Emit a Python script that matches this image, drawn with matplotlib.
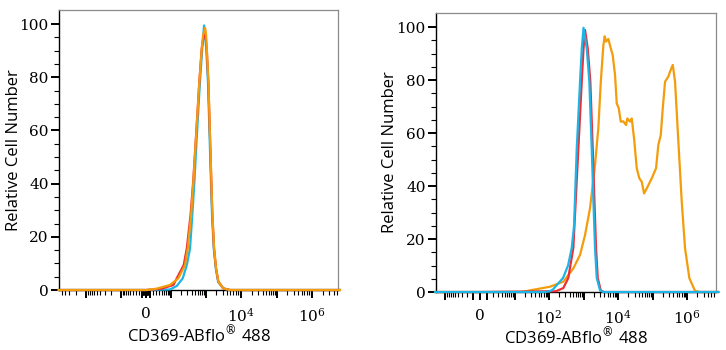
import numpy as np
import matplotlib
matplotlib.use("Agg")
import matplotlib.pyplot as plt

plt.rcParams['mathtext.fontset'] = 'custom'
plt.rcParams['mathtext.rm'] = 'DejaVu Serif'
plt.rcParams['mathtext.it'] = 'DejaVu Serif'

# ---------------- data (raw fluorescence intensity, relative count) ----------------
# Left panel
left_blue_x = [-6000, 0, 95, 151, 225, 294, 363, 420, 481, 540, 610, 690, 800, 903,
               1040, 1160, 1240, 1320, 1410, 1510, 1690, 1930, 2250, 3100, 4700, 6e6]
left_blue_y = [0, 0, 0.2, 1.5, 4.4, 9.4, 15.7, 28.2, 40.7, 53.3, 65.8, 78.3, 90.8, 99.5,
               90.8, 78.3, 65.8, 53.3, 40.7, 28.2, 15.7, 8.1, 3.1, 0.6, 0, 0]
left_red_x = [-6000, 0, 50, 120, 151, 240, 294, 375, 445, 510, 582, 663, 775, 950,
              1070, 1190, 1270, 1355, 1445, 1545, 1720, 1960, 2280, 3150, 4850, 6e6]
left_red_y = [0, 0, 0.5, 1.9, 4.4, 9.4, 15.7, 28.2, 40.7, 53.3, 65.8, 78.3, 90.8, 98.3,
              90.8, 78.3, 65.8, 53.3, 40.7, 28.2, 15.7, 8.1, 3.1, 0.6, 0, 0]
left_orange_x = [-6000, 0, 2, 31, 95, 168, 262, 313, 388, 451, 513, 585, 666, 778, 846, 964,
                 1030, 1077, 1195, 1275, 1359, 1450, 1550, 1728, 1968, 2287, 3160, 4880, 6e6]
left_orange_y = [0, 0, 0, 0.5, 1.9, 4.4, 9.4, 15.7, 28.2, 40.7, 53.3, 65.8, 78.3, 90.8, 95.8, 98.6,
                 95.8, 90.8, 78.3, 65.8, 53.3, 40.7, 28.2, 15.7, 8.1, 3.1, 0.6, 0, 0]

# Right panel
right_blue_x = [-20, 0, 77, 107, 131, 255, 356, 455, 531, 635, 792, 890, 1000,
                1239, 1473, 1729, 1923, 2153, 2414, 3006, 3750, 8e6]
right_blue_y = [0, 0, 0, 0.3, 1.0, 5.3, 10, 16.6, 25, 54, 79.4, 91.9, 99.7,
                91.9, 79.4, 54, 35.3, 16.6, 5.3, 0.6, 0, 0]
right_red_x = [-20, 0, 160, 260, 362, 506, 707, 887, 1000, 1105,
               1324, 1574, 1848, 2058, 2303, 2580, 3152, 3927, 8e6]
right_red_y = [0, 0, 0.3, 1.5, 5.3, 16.6, 54, 79.4, 92, 98.9,
               91.9, 79.4, 54, 35.3, 16.6, 5.3, 0.6, 0, 0]
right_orange_x = [-20, 0, 16, 28, 107, 260, 506, 792, 1105, 1542, 2153, 2685, 3152, 3750,
                  4100, 4487, 5236, 5861, 7015, 8185, 9165, 10470, 11970, 14250, 17060,
                  18620, 22280, 24950, 29100, 34830, 41400, 48640, 56750, 67920, 94840,
                  126300, 147200, 173000, 197700, 230300, 287100, 321400, 385500, 448700,
                  559700, 701500, 874600, 1.167e6, 1.706e6, 2.38e6, 8e6]
right_orange_y = [0, 0, 0, 0.6, 2.0, 3.9, 8.9, 14, 21.5, 31.6, 48, 61.8, 79, 93,
                  96.5, 94.5, 95.5, 93, 89.4, 81.9, 71.2, 69.4, 64.3, 64.4, 63,
                  65.5, 64.3, 65.5, 58, 46.7, 42.9, 41.6, 37.2, 39.1, 42.9,
                  46.7, 55.5, 59.2, 69.3, 79.4, 81.3, 83.2, 85.7, 79.4,
                  56.8, 34.1, 16.5, 5.2, 0.4, 0, 0]

left_xlim = (-5900, 5.3e6)
right_xlim = (-18.8, 6.9e6)
y_ticks = [0, 20, 40, 60, 80, 100]
left_xtick_labels = {0: '0', 1e4: r'$10^{4}$', 1e6: r'$10^{6}$'}
right_xtick_labels = {0: '0', 1e2: r'$10^{2}$', 1e4: r'$10^{4}$', 1e6: r'$10^{6}$'}
x_label = r'CD369-ABflo$^{\circledR}$ 488'
y_label = 'Relative Cell Number'

BLUE = '#1BB5E8'
RED = '#EE2D35'
ORANGE = '#F39C0C'


def make_scale(c):
    ln10 = np.log(10)
    fwd = lambda v: np.arcsinh(np.asarray(v, dtype=float) / c) / ln10
    inv = lambda f: c * np.sinh(np.asarray(f, dtype=float) * ln10)
    return fwd, inv


fig = plt.figure(figsize=(7.26, 3.5), dpi=100)
axL = fig.add_axes([59 / 726, 60 / 350, 279 / 726, 280 / 350])
axR = fig.add_axes([436 / 726, 58 / 350, 280 / 726, 279 / 350])


def style(ax, c, xlim, labels, ylab_x):
    ax.set_xscale('function', functions=make_scale(c))
    ax.set_xlim(*xlim)
    ax.set_ylim(0, 105.3)
    for s in ('top', 'right'):
        ax.spines[s].set_color('#8a8a8a')
        ax.spines[s].set_linewidth(0.9)
    for s in ('left', 'bottom'):
        ax.spines[s].set_color('black')
        ax.spines[s].set_linewidth(1.0)
    # y ticks
    ax.set_yticks(y_ticks)
    ax.set_yticks(np.arange(0, 105, 5), minor=True)
    ax.set_yticklabels([str(t) for t in y_ticks], fontfamily='DejaVu Serif', fontsize=11)
    # x ticks
    majors = [0.0]
    minors = []
    for n in range(0, 7):
        d = 10.0 ** n
        for sgn in (1, -1):
            majors.append(sgn * d)
            for k in range(2, 10):
                minors.append(sgn * k * d)
    majors = [m for m in majors if xlim[0] <= m <= xlim[1]]
    minors = [m for m in minors if xlim[0] <= m <= xlim[1]]
    majors = sorted(set(majors))
    ax.set_xticks(majors)
    ax.set_xticklabels([labels.get(m, '') for m in majors], fontfamily='DejaVu Serif', fontsize=11)
    ax.set_xticks(minors, minor=True)
    ax.tick_params(axis='both', which='major', direction='out', length=6, width=1.4, pad=1.5)
    ax.tick_params(axis='both', which='minor', direction='out', length=3.5, width=0.8)
    ax.tick_params(axis='x', which='major', pad=6)
    ax.set_xlabel(x_label, fontfamily='Open Sans', fontsize=12)
    ax.set_ylabel(y_label, fontfamily='Open Sans', fontsize=12)
    ax.xaxis.set_label_coords(0.5, -0.12)
    ax.yaxis.set_label_coords(ylab_x, 0.5)


style(axL, 42.0, left_xlim, left_xtick_labels, -0.133)
style(axR, 2.0, right_xlim, right_xtick_labels, -0.135)

axL.plot(left_blue_x, left_blue_y, color=BLUE, lw=1.6, clip_on=False, zorder=3)
axL.plot(left_red_x, left_red_y, color=RED, lw=1.6, clip_on=False, zorder=3)
axL.plot(left_orange_x, left_orange_y, color=ORANGE, lw=1.6, clip_on=False, zorder=3)

axR.plot(right_orange_x, right_orange_y, color=ORANGE, lw=1.6, clip_on=False, zorder=3)
axR.plot(right_red_x, right_red_y, color=RED, lw=1.6, clip_on=False, zorder=3)
axR.plot(right_blue_x, right_blue_y, color=BLUE, lw=1.6, clip_on=False, zorder=3)

fig.savefig('out.png', dpi=100)
